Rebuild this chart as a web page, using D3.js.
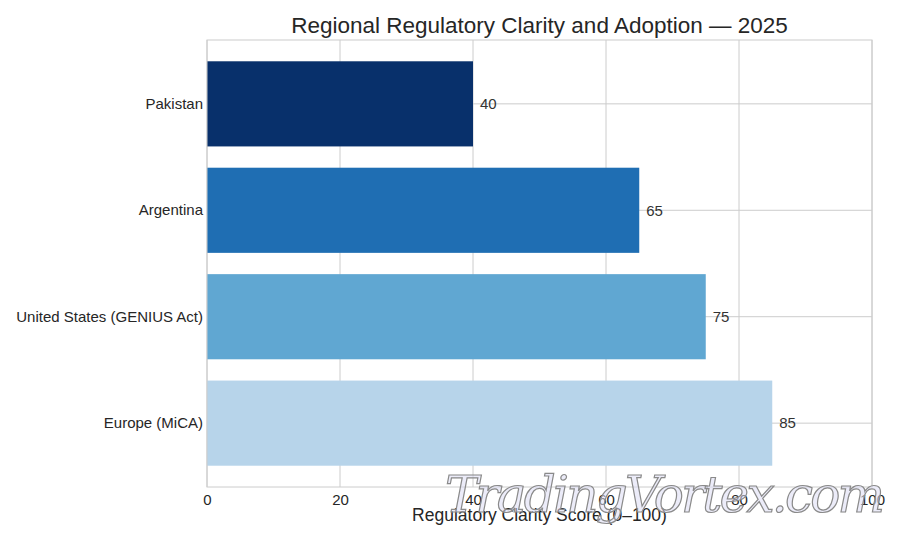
<!DOCTYPE html>
<meta charset="utf-8">
<style>
body { margin: 0; background: #fff; }
text { font-family: "Liberation Sans", Arial, sans-serif; }
.grid line { stroke: #cccccc; stroke-width: 1; }
</style>
<svg width="900" height="540"></svg>
<script src="https://d3js.org/d3.v7.min.js"></script>
<script>

// data
var regions = ["Pakistan", "Argentina", "United States (GENIUS Act)", "Europe (MiCA)"];
var scores = [40, 65, 75, 85];
var barColors = ["#08306b", "#1f6eb3", "#60a7d2", "#b7d4ea"];
var xTicks = [0, 20, 40, 60, 80, 100];

var svg = d3.select("svg");
var plotL = 207, plotR = 872, plotT = 40, plotB = 487;

var x = d3.scaleLinear().domain([0, 100]).range([plotL, plotR]);
var y = d3.scaleBand().domain(regions).range([plotT, plotB])
          .paddingInner(0.2).paddingOuter(0.2);

//grid behind the bars
var grid = svg.append("g").attr("class", "grid");
grid.selectAll(".vx").data(xTicks).enter().append("line")
    .attr("x1", d => x(d)).attr("x2", d => x(d))
    .attr("y1", plotT).attr("y2", plotB);
grid.selectAll(".hy").data(regions).enter().append("line")
    .attr("x1", plotL).attr("x2", plotR)
    .attr("y1", d => y(d) + y.bandwidth() / 2)
    .attr("y2", d => y(d) + y.bandwidth() / 2);

//bars
svg.append("g").selectAll("rect")
    .data(regions).enter().append("rect")
    .attr("x", x(0))
    .attr("y", d => y(d))
    .attr("width", (d, i) => x(scores[i]) - x(0))
    .attr("height", y.bandwidth())
    .attr("fill", (d, i) => barColors[i]);

//frame
svg.append("rect")
    .attr("x", plotL).attr("y", plotT)
    .attr("width", plotR - plotL).attr("height", plotB - plotT)
    .attr("fill", "none").attr("stroke", "#cccccc").attr("stroke-width", 1);

//value labels
svg.append("g").selectAll("text")
    .data(regions).enter().append("text")
    .attr("x", (d, i) => x(scores[i]) + 7)
    .attr("y", d => y(d) + y.bandwidth() / 2)
    .attr("dy", "0.35em")
    .attr("font-size", 15)
    .attr("fill", "#333")
    .text((d, i) => scores[i]);

//axes
var xAxis = svg.append("g")
    .attr("transform", "translate(0," + plotB + ")")
    .call(d3.axisBottom(x).tickValues(xTicks).tickSize(0).tickPadding(7));
var yAxis = svg.append("g")
    .attr("transform", "translate(" + plotL + ",0)")
    .call(d3.axisLeft(y).tickSize(0).tickPadding(4));
[xAxis, yAxis].forEach(function(a) {
  a.select(".domain").remove();
  a.selectAll("text").attr("font-size", 15).attr("fill", "#262626")
    .style("font-family", "'Liberation Sans', Arial, sans-serif");
});

//title and axis label
svg.append("text")
    .attr("x", (plotL + plotR) / 2).attr("y", 33)
    .attr("text-anchor", "middle")
    .attr("font-size", 22.5).attr("fill", "#262626")
    .text("Regional Regulatory Clarity and Adoption — 2025");
svg.append("text")
    .attr("x", (plotL + plotR) / 2).attr("y", 521)
    .attr("text-anchor", "middle")
    .attr("font-size", 17.5).attr("fill", "#262626")
    .text("Regulatory Clarity Score (0–100)");

//watermark
svg.append("text")
    .attr("x", 665).attr("y", 512)
    .attr("text-anchor", "middle")
    .attr("font-size", 50)
    .attr("font-style", "italic")
    .style("font-family", "'DejaVu Serif', serif")
    .attr("fill", "#dcdcf4").attr("fill-opacity", 0.55)
    .attr("stroke", "#8a8a8a").attr("stroke-width", 1.2)
    .attr("textLength", 440)
    .text("TradingVortex.com");

</script>
